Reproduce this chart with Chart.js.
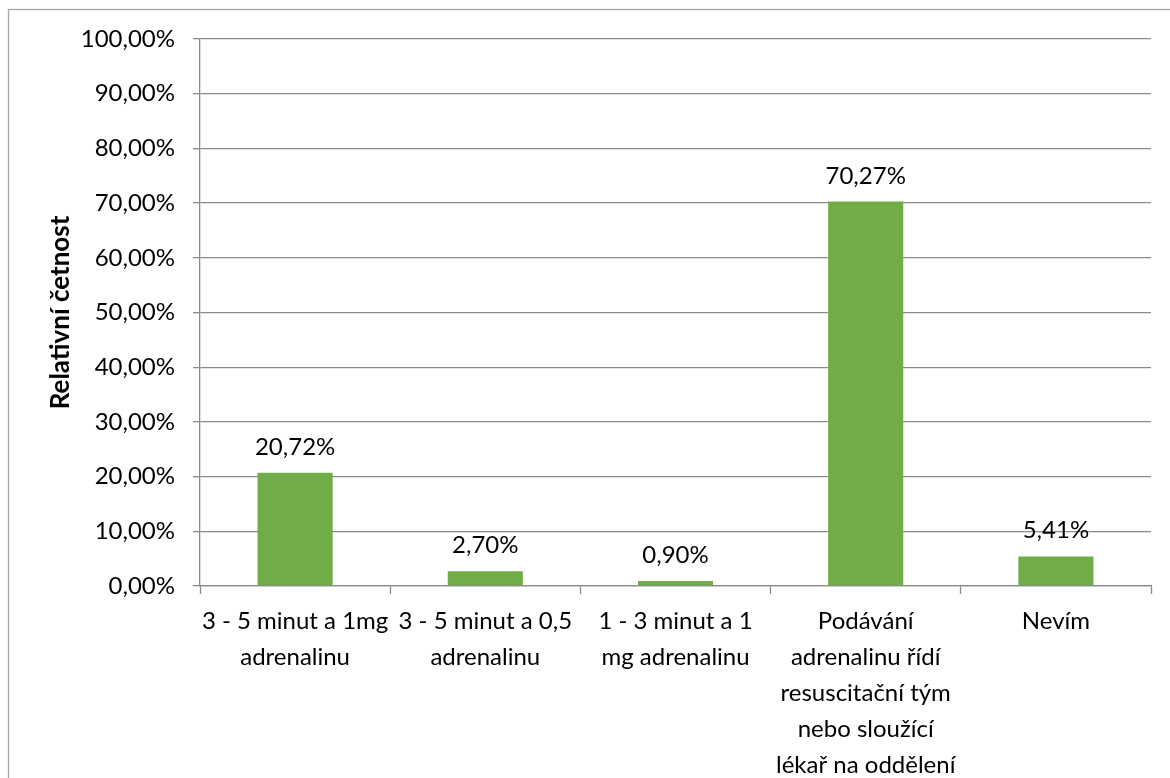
<!DOCTYPE html>
<html>
<head>
<meta charset="utf-8">
<script src="https://cdn.jsdelivr.net/npm/chart.js@4.4.1/dist/chart.umd.min.js"></script>
<style>
  html, body { margin: 0; padding: 0; background: #ffffff; }
  #wrap { width: 1170px; height: 778px; position: relative; }
</style>
</head>
<body>
<div id="wrap"><canvas id="chart" width="1170" height="778"></canvas></div>
<script>
// Answer categories (wrapped into lines as they appear under the axis)
const categories = [
  ["3 - 5 minut a 1mg", "adrenalinu"],
  ["3 - 5 minut a 0,5", "adrenalinu"],
  ["1 - 3 minut a 1", "mg adrenalinu"],
  ["Podávání", "adrenalinu řídí", "resuscitační tým", "nebo sloužící", "lékař na oddělení"],
  ["Nevím"]
];

// Relative frequency of each answer, in percent
const relativeFrequency = [20.72, 2.70, 0.90, 70.27, 5.41];

// Value axis range and step
const axisMin = 0;
const axisMax = 100;
const axisStep = 10;

const yTitle = "Relativní četnost";

const FONT = "Lato, 'Open Sans', sans-serif";
const GRID = "#8a8a8a";
const BAR = "#70ad47";

const fmtPct = v => v.toFixed(2).replace(".", ",") + "%";

// Outer frame of the chart object
const framePlugin = {
  id: "frame",
  beforeDraw(chart) {
    const ctx = chart.ctx;
    ctx.save();
    ctx.strokeStyle = "#a6a6a6";
    ctx.lineWidth = 1.3;
    ctx.strokeRect(8.5, 9.5, chart.width + 20, chart.height + 20);
    ctx.restore();
  }
};

// Value labels above each bar
const valueLabels = {
  id: "valueLabels",
  afterDatasetsDraw(chart) {
    const ctx = chart.ctx;
    const meta = chart.getDatasetMeta(0);
    const data = chart.data.datasets[0].data;
    ctx.save();
    ctx.font = "24px " + FONT;
    ctx.fillStyle = "#000000";
    ctx.textAlign = "center";
    ctx.textBaseline = "alphabetic";
    meta.data.forEach((bar, i) => {
      ctx.fillText(fmtPct(data[i]), bar.x, bar.y - 18);
    });
    ctx.restore();
  }
};

new Chart(document.getElementById("chart"), {
  type: "bar",
  data: {
    labels: categories,
    datasets: [{
      data: relativeFrequency,
      backgroundColor: BAR,
      borderWidth: 0,
      barPercentage: 0.395,
      categoryPercentage: 1.0
    }]
  },
  options: {
    responsive: false,
    animation: false,
    devicePixelRatio: 1,
    layout: { padding: { left: 0, top: 39, right: 19, bottom: 0 } },
    plugins: {
      legend: { display: false },
      tooltip: { enabled: false }
    },
    scales: {
      x: {
        offset: true,
        grid: {
          offset: true,
          drawOnChartArea: false,
          drawTicks: true,
          tickLength: 8,
          tickColor: GRID,
          tickWidth: 1.3
        },
        border: { display: true, color: GRID, width: 1.3 },
        ticks: {
          color: "#000000",
          font: { family: FONT, size: 24, lineHeight: 1.5 },
          padding: 9,
          maxRotation: 0,
          minRotation: 0,
          autoSkip: false
        },
        afterFit(scale) { scale.height = 192; }
      },
      y: {
        min: axisMin,
        max: axisMax,
        grid: {
          color: GRID,
          lineWidth: 1.3,
          drawTicks: true,
          tickLength: 7,
          tickColor: GRID
        },
        border: { display: true, color: GRID, width: 1.3 },
        ticks: {
          stepSize: axisStep,
          color: "#000000",
          font: { family: FONT, size: 24 },
          padding: 18,
          callback: v => fmtPct(v)
        },
        title: {
          display: true,
          text: yTitle,
          color: "#000000",
          font: { family: FONT, size: 26, weight: "bold" },
          padding: { top: 45, bottom: 0 }
        },
        afterFit(scale) { scale.width = 200; }
      }
    }
  },
  plugins: [framePlugin, valueLabels]
});
</script>
</body>
</html>
